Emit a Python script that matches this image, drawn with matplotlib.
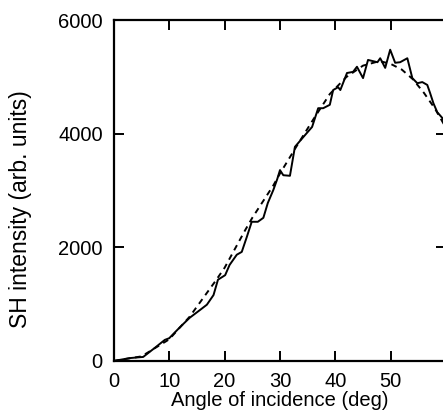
import numpy as np
import matplotlib.pyplot as plt

plt.rcParams['font.family'] = ['Liberation Sans', 'DejaVu Sans']

# measured SH intensity (solid)
angle_meas = [0, 2.9, 5.3, 7.4, 9.2, 10, 12, 13.7, 15.6, 16.8, 18, 18.8, 20.1, 20.9,
              22.2, 23.1, 24, 24.9, 26, 27, 27.8, 28.8, 29.5, 30, 30.6, 31.8, 32.7,
              34.2, 35.8, 36.9, 37.8, 39, 39.6, 40.5, 40.9, 42.1, 43.2, 43.9, 45,
              45.9, 47.6, 48.1, 49, 49.9, 50.8, 51.7, 53, 53.9, 54.8, 55.7, 56.6,
              57.1, 57.7, 58.4, 59.3, 60]
sh_meas = [0, 50, 70, 230, 370, 400, 600, 760, 900, 990, 1160, 1430, 1510, 1690,
           1870, 1920, 2180, 2450, 2450, 2520, 2780, 3010, 3200, 3360, 3270, 3260,
           3770, 3940, 4120, 4450, 4450, 4510, 4770, 4820, 4770, 5070, 5090, 5180,
           4980, 5300, 5260, 5330, 5160, 5480, 5250, 5260, 5330, 4980, 4890, 4910,
           4860, 4720, 4540, 4380, 4280, 4130]

# calculated curve (dashed)
angle_calc = [0, 5, 10, 13.7, 18.3, 20, 23.7, 25, 28.8, 30, 33, 36, 39, 42, 45, 48,
              50, 52, 54, 56, 58, 60]
sh_calc = [0, 80, 380, 780, 1400, 1640, 2300, 2520, 3090, 3300, 3780, 4250, 4700,
           5000, 5200, 5280, 5230, 5130, 4960, 4720, 4440, 4100]

fig = plt.figure(figsize=(4.43, 4.12), dpi=100)
ax = fig.add_axes([0.257, 0.124, 0.75, 0.827])

ax.plot(angle_meas, sh_meas, color='black', lw=1.4)
ax.plot(angle_calc, sh_calc, color='black', lw=1.4, ls=(0, (3, 2.5)))

ax.set_xlim(0, 60)
ax.set_ylim(0, 6000)
ax.set_xticks([0, 10, 20, 30, 40, 50])
ax.set_yticks([0, 2000, 4000, 6000])

ax.tick_params(direction='in', length=7, width=1.4, labelsize=14.5,
               top=True, right=True)
ax.tick_params(axis='x', pad=8)
ax.tick_params(axis='y', pad=8)
for s in ax.spines.values():
    s.set_linewidth(1.6)

ax.set_xlabel('Angle of incidence (deg)', fontsize=14.5, labelpad=0)
ax.set_ylabel('SH intensity (arb. units)', fontsize=16.5)
ax.yaxis.set_label_coords(-0.245, 0.446)

fig.savefig('out.png', dpi=100)
